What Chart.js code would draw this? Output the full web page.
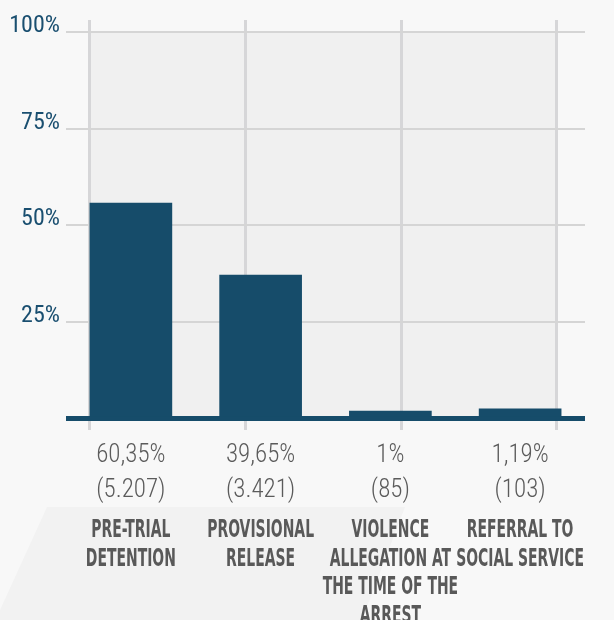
<!DOCTYPE html>
<html>
<head>
<meta charset="utf-8">
<script src="https://cdn.jsdelivr.net/npm/chart.js@4.4.1/dist/chart.umd.min.js"></script>
<style>
  html, body { margin: 0; padding: 0; background: #f8f8f8; }
  #marco { position: relative; width: 614px; height: 620px; overflow: hidden; }
  /* franja gris tenue del fondo, bajo las etiquetas */
  #sombra {
    position: absolute; inset: 0; background: #f2f2f2;
    clip-path: polygon(47px 507px, 405px 507px, 362px 620px, 0 620px, 0 610px);
  }
  canvas { position: relative; }
</style>
</head>
<body>
<div id="marco">
  <div id="sombra"></div>
  <canvas id="grafico" width="614" height="620"></canvas>
</div>
<script>
// Datos
const categorias = [
  ["PRE-TRIAL", "DETENTION"],
  ["PROVISIONAL", "RELEASE"],
  ["VIOLENCE", "ALLEGATION AT", "THE TIME OF THE", "ARREST"],
  ["REFERRAL TO", "SOCIAL SERVICE"],
];
const porcentajes = ["60,35%", "39,65%", "1%", "1,19%"];
const casos = ["(5.207)", "(3.421)", "(85)", "(103)"];
const alturas = [55.7, 37.1, 1.9, 2.5];
const ticksY = [0, 25, 50, 75, 100];
const lineasX = [0, 1, 2, 3];

const COLOR_BARRA = "#164c6a";
const FUENTE = "'Roboto Condensed', Roboto, 'DejaVu Sans Condensed', sans-serif";
const FUENTE_NOMBRES = "'DejaVu Sans Condensed', 'DejaVu Sans', sans-serif";

/** Pinta el rectángulo gris del área de datos, entre las líneas verticales extremas. */
const fondoGris = {
  id: "fondoGris",
  beforeDraw(chart) {
    const { ctx, scales } = chart;
    const x0 = scales.xGrid.getPixelForValue(lineasX[0]);
    const x1 = scales.xGrid.getPixelForValue(lineasX[lineasX.length - 1]);
    const y0 = scales.y.getPixelForValue(ticksY[ticksY.length - 1]);
    const y1 = scales.y.getPixelForValue(0);
    ctx.save();
    ctx.fillStyle = "#f0f0f0";
    ctx.fillRect(x0, y0, x1 - x0 + 1, y1 - y0);
    ctx.restore();
  },
};

/** Nombres de categoría en mayúsculas condensadas bajo cada barra. */
const nombresCategorias = {
  id: "nombresCategorias",
  afterDraw(chart) {
    const { ctx, scales } = chart;
    const base = scales.x.bottom + 21;
    ctx.save();
    ctx.font = `bold 25px ${FUENTE_NOMBRES}`;
    ctx.fillStyle = "#595959";
    ctx.textAlign = "center";
    ctx.textBaseline = "alphabetic";
    categorias.forEach((lineas, i) => {
      const x = scales.x.getPixelForTick(i);
      lineas.forEach((texto, j) => {
        ctx.save();
        ctx.translate(x, base + j * 28.5);
        ctx.scale(0.62, 1); // estrechamiento tipo rótulo condensado
        ctx.fillText(texto, 0, 0);
        ctx.restore();
      });
    });
    ctx.restore();
  },
};

new Chart(document.getElementById("grafico"), {
  type: "bar",
  data: {
    labels: porcentajes.map((p, i) => [p, casos[i]]),
    datasets: [
      {
        data: alturas,
        backgroundColor: COLOR_BARRA,
        barThickness: 82,
        xAxisID: "x",
        yAxisID: "y",
      },
    ],
  },
  options: {
    responsive: false,
    animation: false,
    layout: { padding: { top: 20, right: 29, bottom: 104, left: 0 } },
    plugins: { legend: { display: false }, tooltip: { enabled: false } },
    scales: {
      x: {
        type: "category",
        offset: true,
        weight: 0,
        border: { display: false },
        grid: { display: false, drawTicks: false },
        ticks: {
          padding: 8,
          autoSkip: false,
          maxRotation: 0,
          color: "#5b5b5b",
          font: { family: FUENTE, size: 25, weight: "300", lineHeight: 1.4 },
        },
      },
      // eje auxiliar solo para las líneas verticales de la cuadrícula
      xGrid: {
        type: "linear",
        position: "top",
        min: -0.154,
        max: 3.18,
        offset: false,
        z: -1,
        afterBuildTicks: (s) => { s.ticks = lineasX.map((v) => ({ value: v })); },
        border: { display: false },
        grid: { offset: false, drawTicks: false, color: "#d6d6d8", lineWidth: 3 },
        ticks: { display: false },
      },
      y: {
        min: -3,
        max: 103,
        afterBuildTicks: (s) => { s.ticks = ticksY.map((v) => ({ value: v })); },
        afterFit: (s) => { s.width = 66; },
        border: { display: false },
        grid: {
          drawTicks: false,
          color: (c) => (c.tick && c.tick.value === 0 ? COLOR_BARRA : "#d5d5d5"),
          lineWidth: (c) => (c.tick && c.tick.value === 0 ? 5 : 2),
        },
        ticks: {
          padding: 6,
          labelOffset: -6,
          color: "#1a4f70",
          font: { family: FUENTE, size: 24, weight: "400" },
          callback: (v) => (v === 0 ? "" : v + "%"),
        },
      },
    },
  },
  plugins: [fondoGris, nombresCategorias],
});
</script>
</body>
</html>
